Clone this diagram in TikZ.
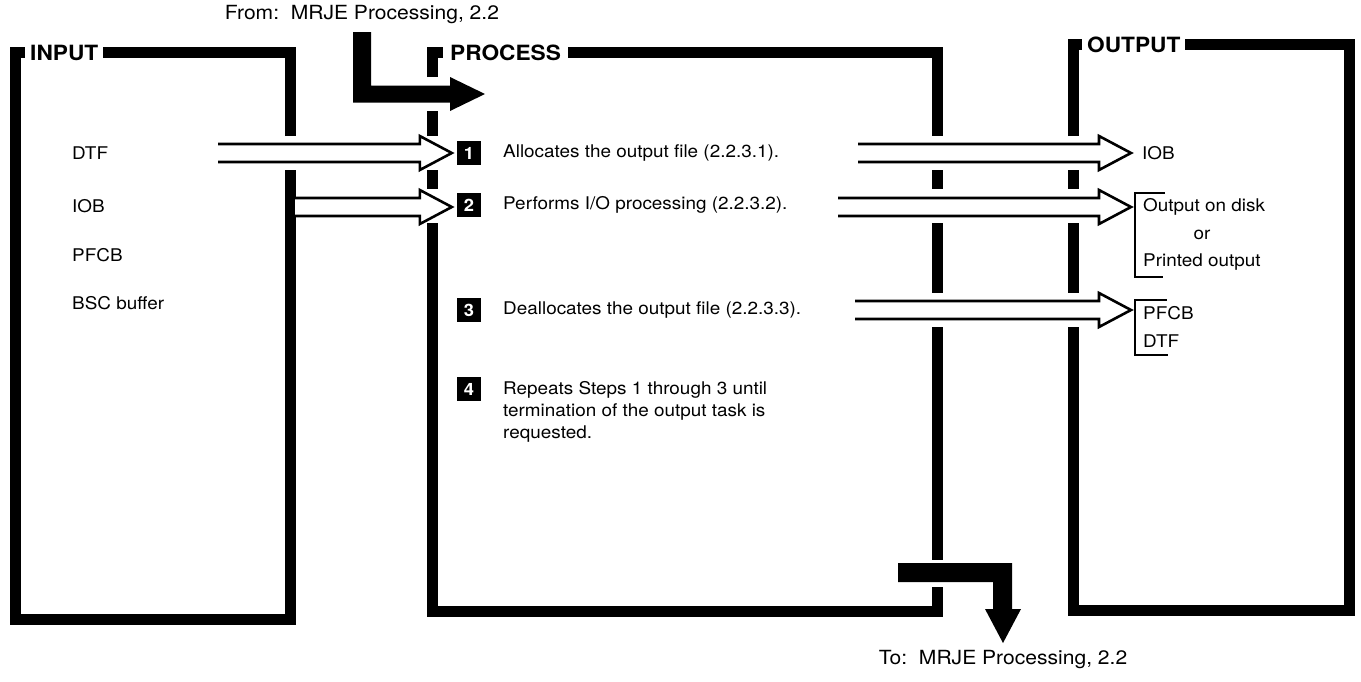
\documentclass[tikz,border=0pt]{standalone}
\usepackage{fontspec}
\setmainfont[FakeStretch=1.08]{TeX Gyre Heros}
\usetikzlibrary{calc}

% hollow (white) block arrow: open tail at #1, tip at #2 (tail's y is used)
\newcommand\hollowarrow[2]{%
  \path[hollow] let \p1=(#1), \p2=(#2) in
    (\x1,\y1+9pt) -- (\x2-32pt,\y1+9pt) -- (\x2-32pt,\y1+17pt) -- (\x2,\y1)
    -- (\x2-32pt,\y1-17pt) -- (\x2-32pt,\y1-9pt) -- (\x1,\y1-9pt);}

\begin{document}
\begin{tikzpicture}[x=1pt,y=-1pt,
  frame/.style={line width=11pt, line cap=butt, line join=miter},
  hollow/.style={fill=white, draw=black, line width=2.6pt, line join=miter},
  bracket/.style={line width=2.4pt, line join=miter},
  boxlabel/.style={font=\fontsize{21}{24}\selectfont\bfseries, fill=white,
                   inner xsep=5pt, inner ysep=1pt, anchor=west},
  txt/.style={font=\fontsize{17.5}{22}\selectfont, inner sep=0pt, anchor=west},
  num/.style={fill=black, text=white, font=\fontsize{17}{17}\selectfont\bfseries,
              minimum width=24pt, minimum height=24pt, inner sep=0pt},
  ref/.style={font=\fontsize{19.5}{22}\selectfont, inner sep=0pt}
]
\useasboundingbox (0,0) rectangle (1361,681);

% ---------------- INPUT frame ----------------
\draw[frame] (290,136) -- (290,52) -- (15,52) -- (15,619) -- (290,619) -- (290,170);
\node[boxlabel] (inlabel) at (25,53) {INPUT};

% ---------------- PROCESS frame ----------------
\draw[frame] (432,77) -- (432,52) -- (937,52) -- (937,136);
\draw[frame] (432,111) -- (432,136);
\draw[frame] (432,170) -- (432,189);
\draw[frame] (432,223) -- (432,611) -- (937,611) -- (937,587);
\draw[frame] (937,170) -- (937,189);
\draw[frame] (937,223) -- (937,293);
\draw[frame] (937,327) -- (937,560);
\node[boxlabel, inner xsep=7pt] (proclabel) at (443,53) {PROCESS};

% ---------------- OUTPUT frame ----------------
\draw[frame] (1073,136) -- (1073,44) -- (1349,44) -- (1349,610) -- (1073,610) -- (1073,327);
\draw[frame] (1073,170) -- (1073,189);
\draw[frame] (1073,223) -- (1073,293);
\node[boxlabel] (outlabel) at (1082,45) {OUTPUT};

% ---------------- entry / exit flow ----------------
\node[ref] (from) at (362,15) {From:\ \ MRJE Processing, 2.2};
\fill (353,32) -- (371,32) -- (371,85.5) -- (450,85.5) -- (450,77) -- (485,94)
      -- (450,111) -- (450,102.5) -- (353,102.5) -- cycle;
\node[ref] (to) at (1003,660) {To:\ \ MRJE Processing, 2.2};
\fill (898,563) -- (1012,563) -- (1012,609) -- (1021,609) -- (1003,643)
      -- (985,609) -- (993,609) -- (993,582) -- (898,582) -- cycle;

% ---------------- input items ----------------
\node[txt] (iDTF)  at (72,153) {DTF};
\node[txt] (iIOB)  at (72,206) {IOB};
\node[txt] (iPFCB) at (72,255) {PFCB};
\node[txt] (iBSC)  at (72,303) {BSC buffer};

% ---------------- steps ----------------
\node[num] (n1) at (469,153) {1};
\node[num] (n2) at (469,205) {2};
\node[num] (n3) at (469,310) {3};
\node[num] (n4) at (469,389) {4};
\node[txt] (t1) at (503,153) {Allocates the output file (2.2.3.1).};
\node[txt] (t2) at (503,205) {Performs I/O processing (2.2.3.2).};
\node[txt] (t3) at (503,310) {Deallocates the output file (2.2.3.3).};
\node[txt, align=left, anchor=north west] (t4) at (503,381)
  {Repeats Steps 1 through 3 until\\termination of the output task is\\requested.};

% ---------------- output items ----------------
\node[txt] (oIOB) at (1142,153) {IOB};
\node[txt] (oDisk) at (1143,207) {Output on disk};
\node[txt] (oPrint) at (1143,262) {Printed output};
\node[font=\fontsize{17.5}{22}\selectfont, inner sep=0pt] (oOr) at ($(oPrint.center)+(0,-27)$) {or};
\node[txt] (oPFCB) at (1143,313) {PFCB};
\node[txt] (oDTF) at (1143,341) {DTF};
\coordinate (br1) at (1135,207);
\coordinate (br2) at (1135,310);
\draw[bracket] (1165,193) -- (1135,193) -- (1135,277) -- (1163,277);
\draw[bracket] (1167,300) -- (1135,300) -- (1135,355) -- (1168,355);

% ---------------- data flow arrows ----------------
\coordinate (a1s) at (218,153);
\coordinate (a2s) at (295,207);
\hollowarrow{a1s}{$(n1.west)+(-5,0)$}
\hollowarrow{a2s}{$(n2.west)+(-5,0)$}
\coordinate (r1s) at (858,153);
\coordinate (r2s) at (838,207);
\coordinate (r3s) at (855,310);
\hollowarrow{r1s}{$(oIOB.west)+(-11,0)$}
\hollowarrow{r2s}{$(br1)+(-4,0)$}
\hollowarrow{r3s}{$(br2)+(-4,0)$}

\end{tikzpicture}
\end{document}
